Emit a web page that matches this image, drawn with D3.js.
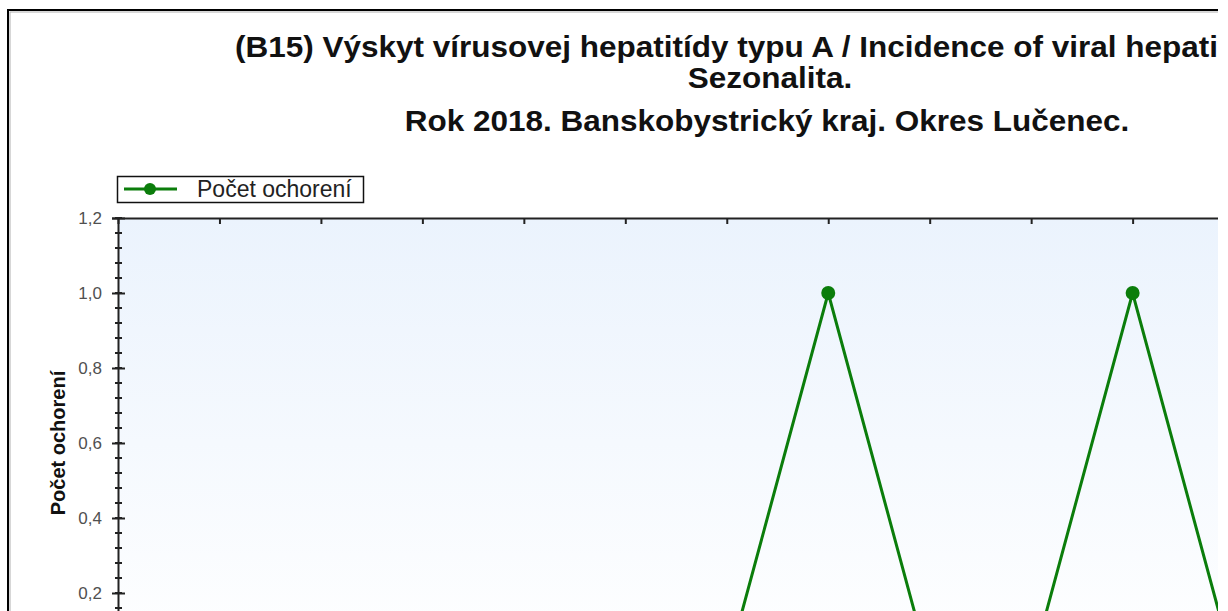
<!DOCTYPE html>
<html>
<head>
<meta charset="utf-8">
<script src="https://cdn.jsdelivr.net/npm/d3@7/dist/d3.min.js"></script>
<style>
body { margin: 0; overflow: hidden; background: #fff; }
text { font-family: Arial, "Liberation Sans", sans-serif; }
</style>
</head>
<body>
<div id="container"></div>
<script>
// data (months 1..12, number of cases)
var months = [1, 2, 3, 4, 5, 6, 7, 8, 9, 10, 11, 12];
var cases = [0, 0, 0, 0, 0, 0, 1, 0, 0, 1, 0, 0];
var yTicks = [0.2, 0.4, 0.6, 0.8, 1.0, 1.2];
var titleLines = [
	"(B15) Výskyt vírusovej hepatitídy typu A / Incidence of viral hepatitis A",
	"Sezonalita.",
	"Rok 2018. Banskobystrický kraj. Okres Lučenec."
];
var seriesName = "Počet ochorení";
var yLabel = "Počet ochorení";

var width = 1228, height = 611;
var plot = {left: 118, top: 218, right: 1437, bottom: 668};
var green = "#0b7d0b";

var svg = d3.select("#container").append("svg")
	.attr("width", width)
	.attr("height", height);

// the picture is cut on the right at 1218
svg.append("clipPath").attr("id", "cut")
	.append("rect").attr("width", 1218).attr("height", height);

var defs = svg.append("defs");
var grad = defs.append("linearGradient")
	.attr("id", "bg").attr("x1", 0).attr("y1", 0).attr("x2", 0).attr("y2", 1);
grad.append("stop").attr("offset", "0%").attr("stop-color", "#ebf3fd");
grad.append("stop").attr("offset", "100%").attr("stop-color", "#ffffff");

var g = svg.append("g").attr("clip-path", "url(#cut)");

// outer frame
g.append("rect").attr("x", 8).attr("y", 10).attr("width", 1500).attr("height", 900)
	.attr("fill", "none").attr("stroke", "#000").attr("stroke-width", 2);
g.append("rect").attr("x", 10).attr("y", 12).attr("width", 1500).attr("height", 900)
	.attr("fill", "none").attr("stroke", "#b0b0b0").attr("stroke-width", 1);

// scales
var x = d3.scaleLinear().domain([0, 13]).range([plot.left, plot.right]);
var y = d3.scaleLinear().domain([0, 1.2]).range([plot.bottom, plot.top]);

// plot background
g.append("rect")
	.attr("x", plot.left).attr("y", plot.top)
	.attr("width", plot.right - plot.left).attr("height", plot.bottom - plot.top)
	.attr("fill", "url(#bg)");

// title (slightly wide letters, like the original)
var title = g.append("g").attr("font-weight", "bold").attr("font-size", 30).attr("fill", "#111");
title.append("text").attr("transform", "translate(235,57) scale(1.05,1)").text(titleLines[0]);
title.append("text").attr("transform", "translate(770,88) scale(1.05,1)")
	.attr("text-anchor", "middle").text(titleLines[1]);
title.append("text").attr("transform", "translate(767,131) scale(1.05,1)")
	.attr("text-anchor", "middle").text(titleLines[2]);

// top axis with month ticks pointing in
var topAxis = g.append("g")
	.attr("transform", "translate(0," + plot.top + ")")
	.call(d3.axisBottom(x).tickValues(months).tickSize(6).tickFormat(""));
topAxis.select(".domain").attr("stroke", "#222").attr("stroke-width", 2);
topAxis.selectAll(".tick line").attr("stroke", "#222").attr("stroke-width", 2);

// y axis: minor ticks
var minor = d3.range(0, 1.2001, 0.04);
g.append("g").selectAll("line")
	.data(minor).enter().append("line")
	.attr("x1", plot.left - 3).attr("x2", plot.left + 4)
	.attr("y1", function(d) { return Math.round(y(d)); })
	.attr("y2", function(d) { return Math.round(y(d)); })
	.attr("stroke", "#222").attr("stroke-width", 2);

var yAxis = g.append("g")
	.attr("transform", "translate(" + plot.left + ",0)")
	.call(d3.axisLeft(y).tickValues(yTicks).tickSize(6).tickPadding(10)
		.tickFormat(function(d) { return d3.format(".1f")(d).replace(".", ","); }));
yAxis.select(".domain").attr("stroke", "#222").attr("stroke-width", 2);
yAxis.selectAll(".tick line").attr("x2", -6).attr("x1", 7).attr("stroke", "#222").attr("stroke-width", 2);
yAxis.selectAll(".tick text")
	.attr("font-family", "Arial, 'Liberation Sans', sans-serif")
	.attr("font-size", 17).attr("fill", "#505050");

g.append("text")
	.attr("transform", "translate(65,443) rotate(-90)")
	.attr("text-anchor", "middle")
	.attr("font-weight", "bold").attr("font-size", 20).attr("fill", "#111")
	.text(yLabel);

// series
var line = d3.line()
	.x(function(d, i) { return x(months[i]); })
	.y(function(d) { return y(d); });

g.append("path")
	.datum(cases)
	.attr("d", line)
	.attr("fill", "none")
	.attr("stroke", green)
	.attr("stroke-width", 3);

g.selectAll(".dot")
	.data(cases).enter()
	.append("circle")
		.attr("class", "dot")
		.attr("cx", function(d, i) { return x(months[i]); })
		.attr("cy", function(d) { return y(d); })
		.attr("r", 7)
		.attr("fill", green);

// legend
var legend = g.append("g").attr("class", "legend");
legend.append("rect")
	.attr("x", 117.5).attr("y", 176.5).attr("width", 246).attr("height", 26)
	.attr("fill", "#fff").attr("stroke", "#111").attr("stroke-width", 1.5);
legend.append("line")
	.attr("x1", 124).attr("x2", 177).attr("y1", 189).attr("y2", 189)
	.attr("stroke", green).attr("stroke-width", 3);
legend.append("circle").attr("cx", 150).attr("cy", 189).attr("r", 6).attr("fill", green);
legend.append("text")
	.attr("x", 197).attr("y", 197)
	.attr("font-size", 23).attr("fill", "#222")
	.text(seriesName);
</script>
</body>
</html>
